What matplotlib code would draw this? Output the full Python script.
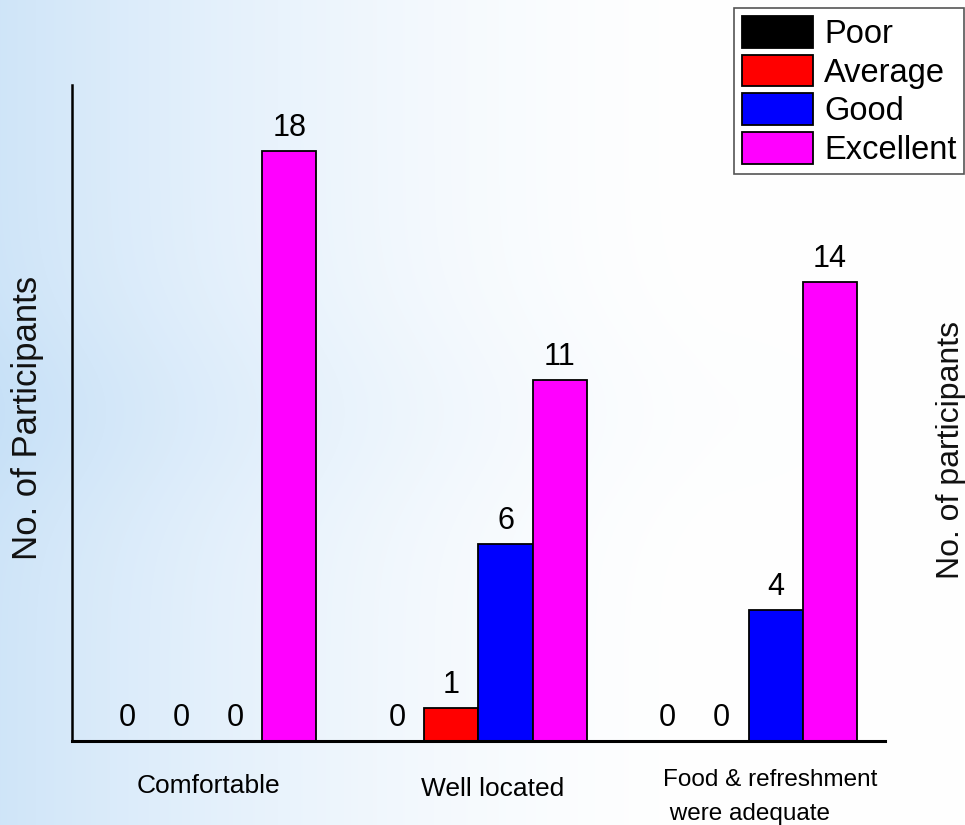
import matplotlib
matplotlib.use("Agg")
import matplotlib.pyplot as plt
import numpy as np

plt.rcParams['font.family'] = ['Liberation Sans', 'DejaVu Sans']

categories = ["Comfortable", "Well located", "Food & refreshment\n were adequate"]
ratings = ["Poor", "Average", "Good", "Excellent"]
poor = [0, 0, 0]
average = [0, 1, 0]
good = [0, 6, 4]
excellent = [18, 11, 14]
colors = ["#000000", "#ff0000", "#0000ff", "#ff00ff"]

W, H = 965, 825
fig = plt.figure(figsize=(W / 100, H / 100), dpi=100)

# soft blue backdrop, fading to white towards the right
bg = fig.add_axes([0, 0, 1, 1], zorder=-10)
xx = np.linspace(0, 1, W)[None, :]
yy = np.linspace(0, 1, H)[:, None]
fade = np.clip(1 - xx / 0.75, 0, 1) ** 1.6
band = 0.35 * np.exp(-((yy - 0.5) / 0.12) ** 2) * np.clip(1 - xx / 1.0, 0, 1)
amt = np.clip(fade * 0.85 + band * 0.4, 0, 1)
img = np.ones((H, W, 3))
tint = np.array([0.78, 0.88, 0.97])
img = img * (1 - amt[..., None]) + tint * amt[..., None]
bg.imshow(img, aspect="auto", extent=[0, 1, 0, 1])
bg.set_axis_off()

ax = fig.add_axes([0.0746, 0.1018, 0.8425, 0.7952])
ax.patch.set_alpha(0)

series = [poor, average, good, excellent]
centers = np.arange(len(categories)) * 5.0
offsets = [-1.5, -0.5, 0.5, 1.5]
for vals, off, col, name in zip(series, offsets, colors, ratings):
    xs = centers + off
    ax.bar(xs, vals, width=1.0, color=col, edgecolor="black", linewidth=1.3, label=name)
    for x, v in zip(xs, vals):
        ax.text(x, v + 0.24, str(v), ha="center", va="bottom", fontsize=22)

ax.set_xlim(-2.52, 12.52)
ax.set_ylim(0, 20)
ax.set_xticks([])
ax.set_yticks([])
for s in ["top", "right"]:
    ax.spines[s].set_visible(False)
ax.spines["left"].set_linewidth(1.8)
ax.spines["bottom"].set_linewidth(2.2)

# category names sit under each group, nudged right a little
label_dx = [0.0, 0.26, 0.4]
label_y = [-1.0, -1.1, -0.85]
sizes = [19, 19, 17.5]
for c, dx, name, ly, fs in zip(centers, label_dx, categories, label_y, sizes):
    ax.text(c + dx, ly, name, ha="center", va="top", fontsize=fs,
            linespacing=1.7, multialignment="left")

fig.text(28 / W, 1 - 418 / H, "No. of Participants", rotation=90,
         ha="center", va="center", fontsize=25, color="#111111")
fig.text(966 / W, 1 - 450 / H, "No. of participants", rotation=90,
         ha="right", va="center", fontsize=23, color="#111111")

leg = ax.legend(loc="upper right", bbox_to_anchor=(1.0 - 0.5 / W, 1 - 8 / H),
                bbox_transform=fig.transFigure, fontsize=23.5, frameon=True,
                fancybox=False, handlelength=2.18, handleheight=1.12,
                labelspacing=0.14, handletextpad=0.33, borderpad=0.25,
                borderaxespad=0)
leg.get_frame().set_edgecolor("#555555")
leg.get_frame().set_linewidth(1.2)
leg.get_frame().set_facecolor("white")
leg.get_frame().set_alpha(1)

fig.savefig("out.png", dpi=100)
